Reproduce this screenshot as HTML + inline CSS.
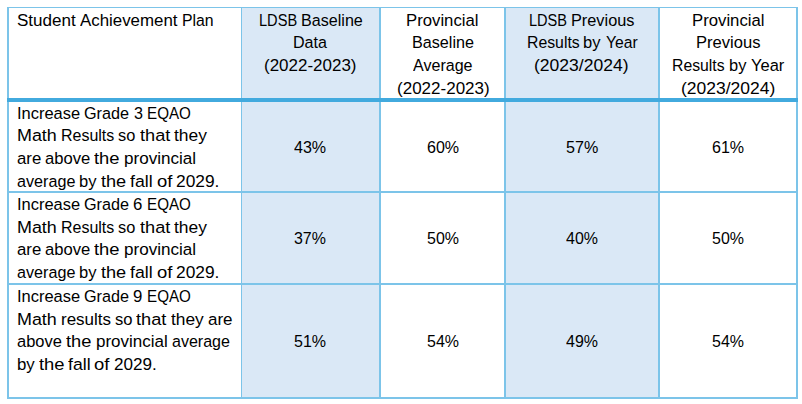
<!DOCTYPE html>
<html><head><meta charset="utf-8"><style>
html,body{margin:0;padding:0;background:#fff;width:802px;height:404px;overflow:hidden}
body{position:relative}
.r{position:absolute}
.t{position:absolute;font-family:"Liberation Sans",sans-serif;font-size:16.8px;line-height:20px;white-space:nowrap;color:#000;transform-origin:0 0}
</style></head><body>
<div class="r" style="left:242px;top:8px;width:137px;height:390px;background:#dae8f6"></div>
<div class="r" style="left:506px;top:8px;width:152px;height:390px;background:#dae8f6"></div>
<div class="r" style="left:7px;top:7px;width:791px;height:1px;background:#7cc4e9"></div>
<div class="r" style="left:7px;top:7px;width:2px;height:392px;background:#7cc4e9"></div>
<div class="r" style="left:796px;top:7px;width:2px;height:392px;background:#7cc4e9"></div>
<div class="r" style="left:7px;top:397px;width:791px;height:2px;background:#7cc4e9"></div>
<div class="r" style="left:241px;top:7px;width:1px;height:392px;background:#7cc4e9"></div>
<div class="r" style="left:379px;top:7px;width:2px;height:392px;background:#7cc4e9"></div>
<div class="r" style="left:504px;top:7px;width:2px;height:392px;background:#7cc4e9"></div>
<div class="r" style="left:658px;top:7px;width:2px;height:392px;background:#7cc4e9"></div>
<div class="r" style="left:7px;top:191px;width:791px;height:2px;background:#7cc4e9"></div>
<div class="r" style="left:7px;top:283px;width:791px;height:2px;background:#7cc4e9"></div>
<div class="r" style="left:7px;top:98px;width:791px;height:4px;background:#42aade"></div>
<span class="t" style="left:16.52px;top:11.20px;transform:scaleX(1.0161)">Student</span>
<span class="t" style="left:79.90px;top:11.20px;transform:scaleX(1.0046)">Achievement</span>
<span class="t" style="left:182.43px;top:11.20px;transform:scaleX(0.9414)">Plan</span>
<span class="t" style="left:258.63px;top:11.20px;transform:scaleX(0.8694)">LDSB</span>
<span class="t" style="left:300.61px;top:11.20px;transform:scaleX(0.9601)">Baseline</span>
<span class="t" style="left:293.31px;top:33.00px;transform:scaleX(0.9589)">Data</span>
<span class="t" style="left:264.38px;top:56.00px;transform:scaleX(1.0119)">(2022-2023)</span>
<span class="t" style="left:406.36px;top:11.20px;transform:scaleX(0.9966)">Provincial</span>
<span class="t" style="left:411.51px;top:33.00px;transform:scaleX(0.9633)">Baseline</span>
<span class="t" style="left:413.30px;top:56.00px;transform:scaleX(0.9568)">Average</span>
<span class="t" style="left:396.68px;top:78.80px;transform:scaleX(1.0141)">(2022-2023)</span>
<span class="t" style="left:529.13px;top:11.20px;transform:scaleX(0.8670)">LDSB</span>
<span class="t" style="left:570.99px;top:11.20px;transform:scaleX(0.9714)">Previous</span>
<span class="t" style="left:526.63px;top:33.00px;transform:scaleX(0.9415)">Results</span>
<span class="t" style="left:583.41px;top:33.00px;transform:scaleX(0.9859)">by</span>
<span class="t" style="left:605.69px;top:33.00px;transform:scaleX(0.9344)">Year</span>
<span class="t" style="left:534.35px;top:56.00px;transform:scaleX(1.0450)">(2023/2024)</span>
<span class="t" style="left:691.66px;top:11.20px;transform:scaleX(0.9966)">Provincial</span>
<span class="t" style="left:695.67px;top:33.00px;transform:scaleX(0.9872)">Previous</span>
<span class="t" style="left:672.44px;top:56.00px;transform:scaleX(0.9396)">Results</span>
<span class="t" style="left:728.81px;top:56.00px;transform:scaleX(0.9800)">by</span>
<span class="t" style="left:750.67px;top:56.00px;transform:scaleX(0.9823)">Year</span>
<span class="t" style="left:680.75px;top:78.80px;transform:scaleX(1.0417)">(2023/2024)</span>
<span class="t" style="left:16.77px;top:104.20px;transform:scaleX(0.9813)">Increase</span>
<span class="t" style="left:84.09px;top:104.20px;transform:scaleX(0.9659)">Grade</span>
<span class="t" style="left:133.62px;top:104.20px;transform:scaleX(0.9597)">3</span>
<span class="t" style="left:147.28px;top:104.20px;transform:scaleX(0.9052)">EQAO</span>
<span class="t" style="left:16.67px;top:126.20px;transform:scaleX(1.0667)">Math</span>
<span class="t" style="left:61.32px;top:126.20px;transform:scaleX(0.9525)">Results</span>
<span class="t" style="left:118.47px;top:126.20px;transform:scaleX(0.9762)">so</span>
<span class="t" style="left:139.62px;top:126.20px;transform:scaleX(1.0828)">that</span>
<span class="t" style="left:174.43px;top:126.20px;transform:scaleX(1.0384)">they</span>
<span class="t" style="left:16.73px;top:148.50px;transform:scaleX(0.9999)">are</span>
<span class="t" style="left:45.23px;top:148.50px;transform:scaleX(0.9911)">above</span>
<span class="t" style="left:94.32px;top:148.50px;transform:scaleX(1.0939)">the</span>
<span class="t" style="left:123.87px;top:148.50px;transform:scaleX(1.0172)">provincial</span>
<span class="t" style="left:16.75px;top:171.70px;transform:scaleX(0.9624)">average</span>
<span class="t" style="left:79.41px;top:171.70px;transform:scaleX(0.9859)">by</span>
<span class="t" style="left:101.32px;top:171.70px;transform:scaleX(1.0807)">the</span>
<span class="t" style="left:130.32px;top:171.70px;transform:scaleX(1.0561)">fall</span>
<span class="t" style="left:156.95px;top:171.70px;transform:scaleX(1.1000)">of</span>
<span class="t" style="left:176.03px;top:171.70px;transform:scaleX(1.0346)">2029.</span>
<span class="t" style="left:16.77px;top:195.20px;transform:scaleX(0.9813)">Increase</span>
<span class="t" style="left:84.09px;top:195.20px;transform:scaleX(0.9659)">Grade</span>
<span class="t" style="left:133.26px;top:195.20px;transform:scaleX(1.0005)">6</span>
<span class="t" style="left:147.28px;top:195.20px;transform:scaleX(0.9052)">EQAO</span>
<span class="t" style="left:16.67px;top:217.70px;transform:scaleX(1.0667)">Math</span>
<span class="t" style="left:61.32px;top:217.70px;transform:scaleX(0.9525)">Results</span>
<span class="t" style="left:118.47px;top:217.70px;transform:scaleX(0.9762)">so</span>
<span class="t" style="left:139.62px;top:217.70px;transform:scaleX(1.0828)">that</span>
<span class="t" style="left:174.43px;top:217.70px;transform:scaleX(1.0384)">they</span>
<span class="t" style="left:16.73px;top:240.20px;transform:scaleX(0.9999)">are</span>
<span class="t" style="left:45.23px;top:240.20px;transform:scaleX(0.9911)">above</span>
<span class="t" style="left:94.32px;top:240.20px;transform:scaleX(1.0939)">the</span>
<span class="t" style="left:123.87px;top:240.20px;transform:scaleX(1.0172)">provincial</span>
<span class="t" style="left:16.75px;top:262.70px;transform:scaleX(0.9624)">average</span>
<span class="t" style="left:79.41px;top:262.70px;transform:scaleX(0.9859)">by</span>
<span class="t" style="left:101.32px;top:262.70px;transform:scaleX(1.0807)">the</span>
<span class="t" style="left:130.32px;top:262.70px;transform:scaleX(1.0561)">fall</span>
<span class="t" style="left:156.95px;top:262.70px;transform:scaleX(1.1000)">of</span>
<span class="t" style="left:176.03px;top:262.70px;transform:scaleX(1.0346)">2029.</span>
<span class="t" style="left:16.77px;top:287.20px;transform:scaleX(0.9813)">Increase</span>
<span class="t" style="left:84.09px;top:287.20px;transform:scaleX(0.9659)">Grade</span>
<span class="t" style="left:133.43px;top:287.20px;transform:scaleX(1.0005)">9</span>
<span class="t" style="left:147.28px;top:287.20px;transform:scaleX(0.9052)">EQAO</span>
<span class="t" style="left:16.67px;top:309.70px;transform:scaleX(1.0667)">Math</span>
<span class="t" style="left:61.08px;top:309.70px;transform:scaleX(1.0131)">results</span>
<span class="t" style="left:114.67px;top:309.70px;transform:scaleX(0.9881)">so</span>
<span class="t" style="left:136.02px;top:309.70px;transform:scaleX(1.0864)">that</span>
<span class="t" style="left:171.03px;top:309.70px;transform:scaleX(1.0321)">they</span>
<span class="t" style="left:208.12px;top:309.70px;transform:scaleX(1.0130)">are</span>
<span class="t" style="left:16.94px;top:332.20px;transform:scaleX(0.9822)">above</span>
<span class="t" style="left:66.32px;top:332.20px;transform:scaleX(1.0895)">the</span>
<span class="t" style="left:95.98px;top:332.20px;transform:scaleX(1.0129)">provincial</span>
<span class="t" style="left:171.96px;top:332.20px;transform:scaleX(0.9557)">average</span>
<span class="t" style="left:17.09px;top:354.70px;transform:scaleX(1.0039)">by</span>
<span class="t" style="left:38.82px;top:354.70px;transform:scaleX(1.0939)">the</span>
<span class="t" style="left:68.22px;top:354.70px;transform:scaleX(1.0512)">fall</span>
<span class="t" style="left:94.40px;top:354.70px;transform:scaleX(1.1000)">of</span>
<span class="t" style="left:113.94px;top:354.70px;transform:scaleX(1.0195)">2029.</span>
<span class="t" style="left:294.28px;top:137.80px;transform:scaleX(0.9574)">43%</span>
<span class="t" style="left:426.60px;top:137.80px;transform:scaleX(0.9568)">60%</span>
<span class="t" style="left:565.55px;top:137.80px;transform:scaleX(0.9611)">57%</span>
<span class="t" style="left:711.60px;top:137.80px;transform:scaleX(0.9568)">61%</span>
<span class="t" style="left:294.32px;top:229.00px;transform:scaleX(0.9500)">37%</span>
<span class="t" style="left:426.76px;top:229.00px;transform:scaleX(0.9519)">50%</span>
<span class="t" style="left:565.88px;top:229.00px;transform:scaleX(0.9513)">40%</span>
<span class="t" style="left:711.76px;top:229.00px;transform:scaleX(0.9519)">50%</span>
<span class="t" style="left:294.16px;top:332.00px;transform:scaleX(0.9549)">51%</span>
<span class="t" style="left:426.76px;top:332.00px;transform:scaleX(0.9519)">54%</span>
<span class="t" style="left:565.88px;top:332.00px;transform:scaleX(0.9513)">49%</span>
<span class="t" style="left:711.76px;top:332.00px;transform:scaleX(0.9519)">54%</span>
</body></html>
